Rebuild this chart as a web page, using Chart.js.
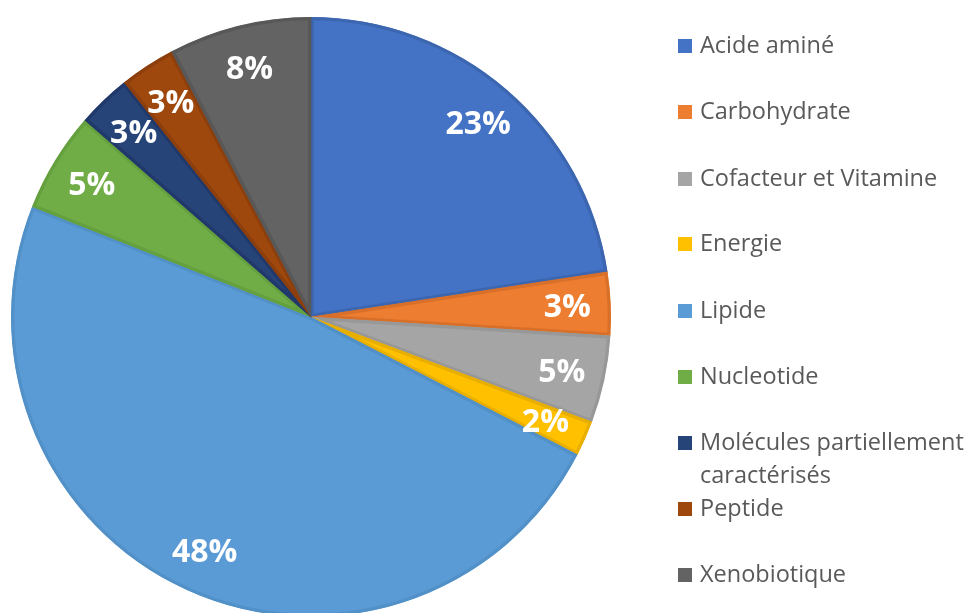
<!DOCTYPE html>
<html>
<head>
<meta charset="utf-8">
<script src="https://cdn.jsdelivr.net/npm/chart.js@4.4.1/dist/chart.umd.min.js"></script>
<style>
    html, body { margin: 0; padding: 0; background: #ffffff; overflow: hidden; }
    #wrap { position: absolute; left: 0; top: 0; width: 966px; height: 620px; }
</style>
</head>
<body>
<div id="wrap"><canvas id="pieChart"></canvas></div>
<script>
// Pie of metabolic pathway shares, labels drawn inside slices, legend on the right.

const categories = [
    'Acide aminé',
    'Carbohydrate',
    'Cofacteur et Vitamine',
    'Energie',
    'Lipide',
    'Nucleotide',
    ['Molécules partiellement', 'caractérisés'],
    'Peptide',
    'Xenobiotique'
];
const shares = [22.6, 3.4, 4.7, 1.9, 48.4, 5.4, 2.9, 3.0, 7.7];
const sliceColors = ['#4472c4', '#ed7d31', '#a5a5a5', '#ffc000', '#5b9bd5', '#70ad47', '#264478', '#9e480e', '#636363'];
const sliceBorders = ['#3c66b0', '#d97029', '#989898', '#e8af00', '#5290c8', '#65a03f', '#21396a', '#8c3f0c', '#585858'];

const canvas = document.getElementById('pieChart');

const sliceLabels = {
    id: 'sliceLabels',
    afterDatasetsDraw(chart) {
        const ctx = chart.ctx;
        const meta = chart.getDatasetMeta(0);
        const total = shares.reduce((a, b) => a + b, 0);
        ctx.save();
        ctx.fillStyle = '#ffffff';
        ctx.font = 'bold 32px "Open Sans", sans-serif';
        ctx.textAlign = 'center';
        ctx.textBaseline = 'middle';
        meta.data.forEach((arc, i) => {
            const mid = (arc.startAngle + arc.endAngle) / 2;
            const r = arc.outerRadius * 0.855;
            const x = arc.x + Math.cos(mid) * r;
            const y = arc.y + Math.sin(mid) * r + 2;
            ctx.fillText(Math.round(shares[i] / total * 100) + '%', x, y);
        });
        ctx.restore();
    }
};

const sideLegend = {
    id: 'sideLegend',
    afterDraw(chart) {
        const ctx = chart.ctx;
        const rows = [46, 112, 179, 244, 311, 377, 443, 509, 575];
        ctx.save();
        ctx.font = '23.5px "Open Sans", sans-serif';
        ctx.textBaseline = 'middle';
        ctx.textAlign = 'left';
        categories.forEach((name, i) => {
            const y = rows[i];
            ctx.fillStyle = sliceColors[i];
            ctx.fillRect(678, y - 7, 14, 14);
            ctx.fillStyle = '#595959';
            const lines = Array.isArray(name) ? name : [name];
            lines.forEach((line, j) => {
                ctx.fillText(line, 700, y + j * 33);
            });
        });
        ctx.restore();
    }
};

new Chart(canvas, {
    type: 'pie',
    data: {
        labels: categories,
        datasets: [
            {
                data: shares,
                backgroundColor: sliceColors,
                borderColor: sliceBorders,
                borderWidth: 3,
                borderAlign: 'inner'
            }
        ]
    },
    options: {
        responsive: true,
        maintainAspectRatio: false,
        animation: false,
        layout: {
            padding: { left: 11, top: 17, right: 355, bottom: 3 }
        },
        plugins: {
            legend: { display: false },
            tooltip: { enabled: false }
        }
    },
    plugins: [sliceLabels, sideLegend]
});
</script>
</body>
</html>
